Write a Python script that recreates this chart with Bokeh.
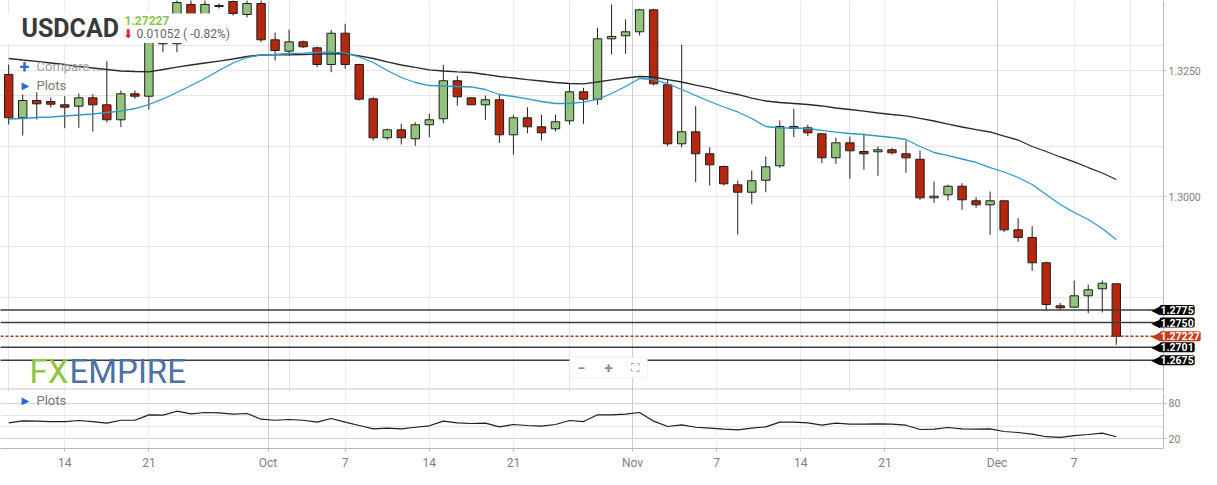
from datetime import date, timedelta
from bokeh.plotting import figure
from bokeh.layouts import column
from bokeh.models import (Range1d, FixedTicker, Grid, Label, BoxAnnotation, LinearAxis,
                          PrintfTickFormatter, ColumnDataSource)
from bokeh.embed import file_html
from bokeh.resources import INLINE

# ---------------- data ----------------
start_day, end_day = date(2020, 9, 9), date(2020, 12, 10)
dates = []
d = start_day
while d <= end_day:
    if d.weekday() != 5:          # daily bars incl. Sunday session, no Saturday
        dates.append(d)
    d += timedelta(days=1)

opens = [1.32421, 1.31562, 1.31905, 1.31885, 1.31819, 1.31792, 1.31958, 1.31819, 1.31522, 1.32038,
         1.31990, 1.33294, 1.33030, 1.33810, 1.33452, 1.33770, 1.33869, 1.33611, 1.33829, 1.33109,
         1.32883, 1.33069, 1.32950, 1.32619, 1.33240, 1.32619, 1.31938, 1.31165, 1.31323, 1.31145,
         1.31423, 1.31542, 1.32296, 1.31958, 1.31819, 1.31919, 1.31224, 1.31562, 1.31383, 1.31343,
         1.31502, 1.32077, 1.31931, 1.33129, 1.33189, 1.33268, 1.33704, 1.32216, 1.31046, 1.31284,
         1.30847, 1.30595, 1.30232, 1.30085, 1.30323, 1.30609, 1.31389, 1.31363, 1.31244, 1.30768,
         1.31065, 1.30893, 1.30887, 1.30927, 1.30847, 1.30740, 1.29974, 1.30034, 1.30204, 1.29915,
         1.29835, 1.29915, 1.29339, 1.29187, 1.28685, 1.27831, 1.27804, 1.28030, 1.28169, 1.28268]
highs = [1.32619, 1.32024, 1.32069, 1.31964, 1.31990, 1.32044, 1.32030, 1.32685, 1.32103, 1.32103,
         1.33452, 1.33373, 1.33948, 1.33948, 1.33968, 1.33829, 1.33948, 1.33929, 1.33929, 1.33254,
         1.33313, 1.33095, 1.32976, 1.33307, 1.33427, 1.32633, 1.31970, 1.31349, 1.31442, 1.31474,
         1.31641, 1.32613, 1.32395, 1.31964, 1.32004, 1.32038, 1.31621, 1.31772, 1.31621, 1.31621,
         1.32248, 1.32157, 1.33347, 1.33810, 1.33512, 1.33724, 1.33724, 1.32335, 1.33010, 1.31792,
         1.30978, 1.30615, 1.30317, 1.30516, 1.30794, 1.31508, 1.31740, 1.31423, 1.31264, 1.31165,
         1.31190, 1.31244, 1.30992, 1.30966, 1.31111, 1.30913, 1.30298, 1.30232, 1.30264, 1.29986,
         1.30099, 1.29921, 1.29569, 1.29411, 1.28710, 1.27891, 1.28333, 1.28250, 1.28333, 1.28279]
lows = [1.31429, 1.31210, 1.31528, 1.31766, 1.31355, 1.31363, 1.31290, 1.31468, 1.31375, 1.31938,
        1.31726, 1.32863, 1.32863, 1.33333, 1.33294, 1.33730, 1.33591, 1.33552, 1.33062, 1.32698,
        1.32798, 1.32946, 1.32565, 1.32466, 1.32534, 1.31905, 1.31111, 1.31125, 1.31032, 1.31006,
        1.31177, 1.31454, 1.31800, 1.31815, 1.31522, 1.31065, 1.30827, 1.31256, 1.31111, 1.31290,
        1.31429, 1.31442, 1.31819, 1.32817, 1.32831, 1.33194, 1.32202, 1.30998, 1.30978, 1.30284,
        1.30218, 1.30218, 1.29246, 1.29855, 1.30085, 1.30569, 1.31177, 1.31196, 1.30661, 1.30649,
        1.30351, 1.30530, 1.30411, 1.30833, 1.30470, 1.29935, 1.29875, 1.29921, 1.29736, 1.29776,
        1.29240, 1.29292, 1.29101, 1.28526, 1.27738, 1.27752, 1.27792, 1.27685, 1.27698, 1.27058]
closes = [1.31562, 1.31905, 1.31839, 1.31831, 1.31772, 1.31958, 1.31819, 1.31522, 1.32038, 1.31990,
          1.33294, 1.33030, 1.33849, 1.33492, 1.33810, 1.33790, 1.33631, 1.33829, 1.33109, 1.32897,
          1.33069, 1.32970, 1.32619, 1.33240, 1.32619, 1.31931, 1.31165, 1.31323, 1.31165, 1.31423,
          1.31522, 1.32296, 1.31978, 1.31819, 1.31919, 1.31224, 1.31562, 1.31383, 1.31264, 1.31482,
          1.32077, 1.31931, 1.33129, 1.33175, 1.33268, 1.33704, 1.32236, 1.31046, 1.31284, 1.30847,
          1.30629, 1.30252, 1.30085, 1.30312, 1.30589, 1.31389, 1.31349, 1.31264, 1.30768, 1.31065,
          1.30907, 1.30847, 1.30927, 1.30867, 1.30768, 1.29974, 1.30006, 1.30204, 1.29935, 1.29835,
          1.29915, 1.29339, 1.29187, 1.28685, 1.27857, 1.27792, 1.28030, 1.28149, 1.28279, 1.27227]

ma_long = [1.32738, 1.32708, 1.32679, 1.32649, 1.32619, 1.32579, 1.32550, 1.32520, 1.32490, 1.32480,
           1.32474, 1.32520, 1.32569, 1.32609, 1.32649, 1.32688, 1.32728, 1.32778, 1.32808, 1.32811,
           1.32811, 1.32817, 1.32823, 1.32831, 1.32837, 1.32788, 1.32738, 1.32669, 1.32609, 1.32560,
           1.32514, 1.32490, 1.32474, 1.32460, 1.32421, 1.32381, 1.32351, 1.32321, 1.32292, 1.32262,
           1.32242, 1.32236, 1.32272, 1.32312, 1.32351, 1.32381, 1.32371, 1.32321, 1.32272, 1.32212,
           1.32153, 1.32083, 1.32024, 1.31954, 1.31895, 1.31865, 1.31845, 1.31825, 1.31796, 1.31756,
           1.31726, 1.31696, 1.31657, 1.31627, 1.31601, 1.31548, 1.31498, 1.31438, 1.31379, 1.31329,
           1.31280, 1.31200, 1.31121, 1.30992, 1.30893, 1.30784, 1.30685, 1.30575, 1.30466, 1.30337]
ma_short = [1.31538, 1.31548, 1.31567, 1.31577, 1.31597, 1.31617, 1.31637, 1.31667, 1.31696, 1.31746,
            1.31825, 1.31935, 1.32063, 1.32202, 1.32341, 1.32500, 1.32649, 1.32758, 1.32808, 1.32817,
            1.32837, 1.32843, 1.32857, 1.32863, 1.32851, 1.32768, 1.32659, 1.32500, 1.32361, 1.32262,
            1.32202, 1.32192, 1.32183, 1.32173, 1.32123, 1.32024, 1.31984, 1.31935, 1.31885, 1.31845,
            1.31845, 1.31871, 1.31925, 1.32044, 1.32183, 1.32341, 1.32321, 1.32236, 1.32123, 1.32004,
            1.31885, 1.31776, 1.31677, 1.31548, 1.31389, 1.31359, 1.31359, 1.31349, 1.31310, 1.31276,
            1.31250, 1.31230, 1.31200, 1.31171, 1.31131, 1.30992, 1.30873, 1.30813, 1.30744, 1.30675,
            1.30575, 1.30486, 1.30377, 1.30238, 1.30040, 1.29841, 1.29683, 1.29544, 1.29365, 1.29147]
oscillator = [46.9, 50.3, 49.7, 49.1, 49.1, 50.8, 49.1, 46.3, 51.3, 51.3,
              60.4, 59.8, 66.5, 62.1, 64.3, 63.8, 61.5, 62.6, 53.0, 51.3,
              52.5, 51.3, 48.0, 54.2, 48.0, 42.4, 36.8, 37.9, 36.8, 39.5,
              41.9, 49.7, 46.9, 45.8, 46.3, 40.2, 44.1, 42.4, 41.2, 44.1,
              50.8, 49.1, 60.4, 60.4, 61.5, 64.3, 49.7, 40.7, 43.6, 39.5,
              37.9, 36.2, 35.1, 37.9, 40.2, 48.0, 48.0, 46.9, 42.9, 46.3,
              44.6, 44.6, 45.2, 44.6, 42.9, 35.7, 36.2, 39.0, 36.8, 36.2,
              36.8, 32.3, 30.6, 28.0, 23.5, 22.5, 25.5, 27.2, 29.5, 23.5]

support_levels = [1.2775, 1.2750, 1.2701, 1.2675]
last_price = 1.27227
price_ticks = [1.3000, 1.3250]
osc_ticks = [20, 80]

tick_dates = [date(2020, 9, 14), date(2020, 9, 21), date(2020, 10, 1), date(2020, 10, 7),
              date(2020, 10, 14), date(2020, 10, 21), date(2020, 11, 1), date(2020, 11, 7),
              date(2020, 11, 14), date(2020, 11, 21), date(2020, 12, 1), date(2020, 12, 7)]
tick_labels = ["14", "21", "Oct", "7", "14", "21", "Nov", "7", "14", "21", "Dec", "7"]

# ---------------- layout helpers (screen position -> data units) ----------------
def X(px):
    return (px - 8.2) / 14.02

def Y(py):
    return 1.3 + (196.0 - py) / 5040.0

def Y2(py):
    return 80 - (py - 402.7) / 0.5933

def tick_pos(td):
    first = next(i for i, dd in enumerate(dates) if dd >= td)
    if td.day == 1 or dates[first] != td:
        return first - 0.5
    return float(first)

xs = list(range(len(dates)))
tpos = [tick_pos(t) for t in tick_dates]
month_pos = [tp for tp, lab in zip(tpos, tick_labels) if not lab.isdigit()]
day_pos = [tp for tp, lab in zip(tpos, tick_labels) if lab.isdigit()]

GREEN = "#93c47d"
RED = "#b5280f"
colors = [GREEN if c >= o else RED for o, c in zip(opens, closes)]
src = ColumnDataSource(dict(x=xs, o=opens, h=highs, l=lows, c=closes,
                            top=[max(o, c) for o, c in zip(opens, closes)],
                            bottom=[min(o, c) for o, c in zip(opens, closes)],
                            color=colors))

W = 1201
SPLIT = 392            # screen row where the lower pane starts
AXIS_X = X(1163)
x_range = Range1d(X(0), X(W))


def style_axis(ax, size="11px"):
    ax.axis_line_color = "#b8b8b8"
    ax.major_tick_line_color = "#b8b8b8"
    ax.major_tick_out = 3
    ax.major_tick_in = 0
    ax.minor_tick_line_color = None
    ax.major_label_text_color = "#808080"
    ax.major_label_text_font = "Roboto"
    ax.major_label_text_font_size = size
    ax.major_label_standoff = 2


def lab(fig, x, y, text, size, color, bold=False, font="Roboto", align="left", **kw):
    fig.add_layout(Label(x=x, y=y, text=text, text_font=font, text_font_size=size,
                         text_color=color, text_font_style="bold" if bold else "normal",
                         text_align=align, text_baseline="middle", **kw))


# ---------------- main pane ----------------
p = figure(frame_width=W, frame_height=SPLIT, x_range=x_range,
           y_range=Range1d(Y(SPLIT), Y(0)), output_backend="svg",
           toolbar_location=None, x_axis_location=None, y_axis_location=None,
           min_border_left=0, min_border_right=0, min_border_top=0, min_border_bottom=0)
p.outline_line_color = None
p.background_fill_color = "white"
p.border_fill_color = "white"

p.add_layout(Grid(dimension=1, ticker=FixedTicker(ticks=price_ticks), grid_line_color="#e8e8e8"))
p.add_layout(Grid(dimension=0, ticker=FixedTicker(ticks=day_pos), grid_line_color="#ececec"))
p.add_layout(Grid(dimension=0, ticker=FixedTicker(ticks=month_pos), grid_line_color="#cdcdcd"))
# blank area right of the price axis
p.add_layout(BoxAnnotation(left=AXIS_X, right=X(W + 50), fill_color="white", fill_alpha=1.0,
                           line_color=None, level="underlay"))

yax = LinearAxis(fixed_location=AXIS_X, ticker=FixedTicker(ticks=price_ticks),
                 formatter=PrintfTickFormatter(format="%.4f"))
style_axis(yax, "10.5px")
p.add_layout(yax, "right")

p.segment(x0="x", y0="l", x1="x", y1="h", source=src, line_color="#222222", line_width=1)
p.vbar(x="x", width=0.6, top="top", bottom="bottom", source=src,
       fill_color="color", line_color="#1e1e1e", line_width=1)

p.line(xs, ma_long, line_color="#2a2a2a", line_width=1.3)
p.line(xs, ma_short, line_color="#2b9ac6", line_width=1.3)

n_lv = len(support_levels)
p.segment(x0=[X(-5)] * n_lv, x1=[X(1160)] * n_lv, y0=support_levels, y1=support_levels,
          line_color="#3c3c3c", line_width=1.5)
p.segment(x0=[X(-5)], x1=[X(1160)], y0=[last_price], y1=[last_price],
          line_color="#a8321e", line_width=1.5, line_dash="3 2")
# pane separator
p.segment(x0=[X(-5)], x1=[AXIS_X], y0=[Y(388.5)], y1=[Y(388.5)],
          line_color="#c8c8c8", line_width=1)

# white legend backdrop hiding the top of the September candles
p.add_layout(BoxAnnotation(left=X(-10), right=X(226), bottom=Y(42.5), top=Y(13),
                           fill_color="white", fill_alpha=1.0, line_color=None))

lab(p, X(21), Y(28), "USDCAD", "25px", "#3a3a3a", bold=True)
lab(p, X(124), Y(20), "1.27227", "12px", "#8cc152", bold=True)
lab(p, X(122.5), Y(33), "\u2b07", "12px", "#e5192f", font="DejaVu Sans")
lab(p, X(136), Y(33), "0.01052 ( -0.82%)", "12px", "#666666")
lab(p, X(19), Y(66), "+", "18px", "#2a6bd1", bold=True)
lab(p, X(36), Y(66), "Compare ...", "13px", "#a3a3a3")
lab(p, X(21), Y(85), "\u25b6", "10px", "#2a6bd1", font="DejaVu Sans")
lab(p, X(36), Y(85), "Plots", "13px", "#777777")
lab(p, X(29), Y(370.5), "FX", "33px", "#8dc63f")
lab(p, X(69), Y(370.5), "EMPIRE", "33px", "#4d70a6")

# zoom control
p.add_layout(BoxAnnotation(left=X(569), right=X(647), top=Y(357), bottom=Y(377),
                           fill_color="white", fill_alpha=1.0, line_color="#dadada",
                           line_width=1, border_radius=3))
lab(p, X(581), Y(367), "\u2212", "14px", "#8a8a8a", bold=True, align="center")
lab(p, X(608), Y(367), "+", "15px", "#8a8a8a", bold=True, align="center")
lab(p, X(634), Y(367), "\u26f6", "12px", "#8a8a8a", font="DejaVu Sans", align="center")

# price tags on the right axis
tag_items = [(lvl, "%.4f" % lvl, "black") for lvl in support_levels] + \
            [(last_price, "%.5f" % last_price, "#c23d1e")]
for lvl, txt, bg in tag_items:
    lab(p, X(1160), lvl, "\u25c0", "12px", bg, font="DejaVu Sans", align="right")
    lab(p, X(1159), lvl, txt, "10.5px", "white", bold=True,
        background_fill_color=bg, padding=1, border_radius=2)

# ---------------- lower pane ----------------
p2 = figure(frame_width=W, frame_height=448 - SPLIT, x_range=x_range,
            y_range=Range1d(Y2(448), Y2(SPLIT)), output_backend="svg",
            toolbar_location=None, y_axis_location=None,
            min_border_left=0, min_border_right=0, min_border_top=0, min_border_bottom=21)
p2.outline_line_color = None
p2.xgrid.visible = False
p2.add_layout(Grid(dimension=1, ticker=FixedTicker(ticks=osc_ticks), grid_line_color="#d2d2d2"))
p2.add_layout(Grid(dimension=0, ticker=FixedTicker(ticks=day_pos), grid_line_color="#ececec"))
p2.add_layout(Grid(dimension=0, ticker=FixedTicker(ticks=month_pos), grid_line_color="#cdcdcd"))
p2.add_layout(BoxAnnotation(left=AXIS_X, right=X(W + 50), fill_color="white", fill_alpha=1.0,
                            line_color=None, level="underlay"))

yax2 = LinearAxis(fixed_location=AXIS_X, ticker=FixedTicker(ticks=osc_ticks))
style_axis(yax2, "10.5px")
p2.add_layout(yax2, "right")

p2.xaxis.ticker = FixedTicker(ticks=tpos)
p2.xaxis.major_label_overrides = {float(tp): l for tp, l in zip(tpos, tick_labels)}
p2.xaxis.bounds = (X(0) - 1, AXIS_X)
style_axis(p2.xaxis[0], "12px")
p2.xaxis.major_label_standoff = 4

p2.line(xs, oscillator, line_color="#1e1e1e", line_width=1.2)
lab(p2, X(21), Y2(400), "\u25b6", "10px", "#2a6bd1", font="DejaVu Sans")
lab(p2, X(36), Y2(400), "Plots", "13px", "#777777")

layout = column(p, p2, spacing=0)
open("out.html", "w").write(file_html(layout, INLINE))
